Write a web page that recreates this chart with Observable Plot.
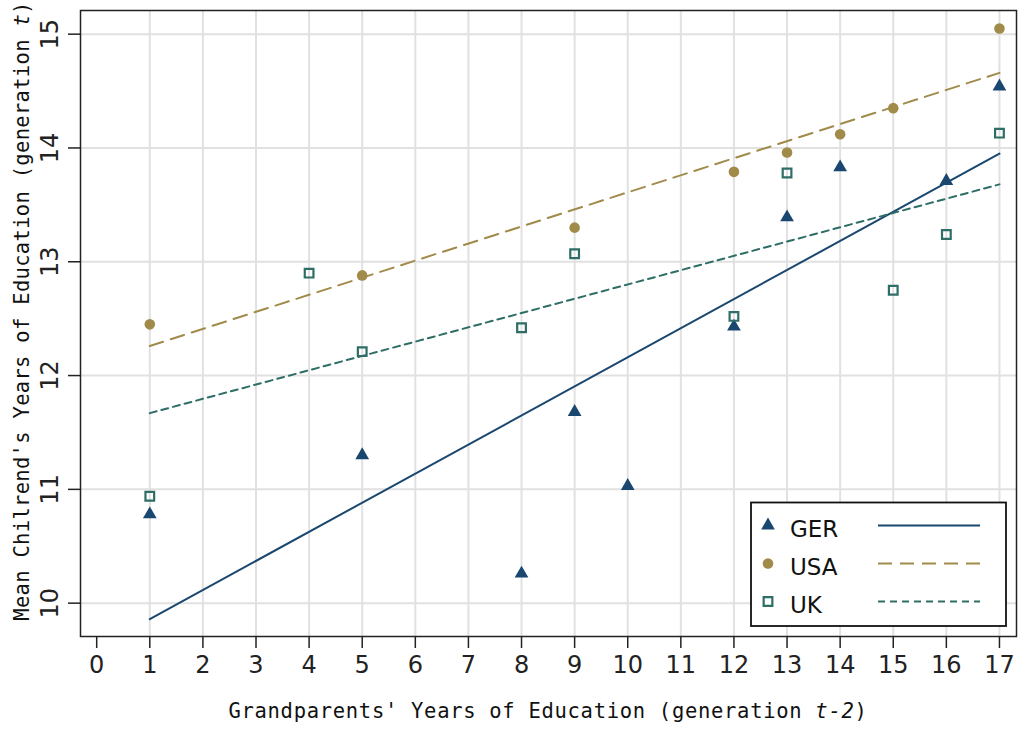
<!DOCTYPE html>
<html><head><meta charset="utf-8">
<script src="https://cdn.jsdelivr.net/npm/d3@7"></script>
<script src="https://cdn.jsdelivr.net/npm/@observablehq/plot@0.6"></script>
<style>
body{margin:0;background:#fff}
#chart{position:relative;width:1020px;height:729px}
</style>
</head><body><div id="chart"></div>
<script>
// ---- data ----
const gerX = [1, 5, 8, 9, 10, 12, 13, 14, 16, 17];
const gerY = [10.78, 11.30, 10.26, 11.68, 11.03, 12.43, 13.39, 13.83, 13.71, 14.54];
const usaX = [1, 5, 9, 12, 13, 14, 15, 17];
const usaY = [12.45, 12.88, 13.30, 13.79, 13.96, 14.12, 14.35, 15.05];
const ukX = [1, 4, 5, 8, 9, 12, 13, 15, 16, 17];
const ukY = [10.94, 12.90, 12.21, 12.42, 13.07, 12.52, 13.78, 12.75, 13.24, 14.13];
const fitX = [1, 17];
const gerFit = [9.86, 13.95];
const usaFit = [12.26, 14.66];
const ukFit = [11.67, 13.68];
const xTicks = [0, 1, 2, 3, 4, 5, 6, 7, 8, 9, 10, 11, 12, 13, 14, 15, 16, 17];
const xGrid = [1, 2, 3, 4, 5, 6, 7, 8, 9, 10, 11, 12, 13, 14, 15, 16, 17];
const yTicks = [10, 11, 12, 13, 14, 15];
const series = ["GER", "USA", "UK"];
const colors = {GER: "#1a476f", USA: "#a18b4a", UK: "#2e6e67"};

const pts = (xs, ys) => xs.map((x, i) => ({x, y: ys[i]}));
const ger = pts(gerX, gerY), usa = pts(usaX, usaY), uk = pts(ukX, ukY);
const gerL = pts(fitX, gerFit), usaL = pts(fitX, usaFit), ukL = pts(fitX, ukFit);

const chart = Plot.plot({
  width: 1020, height: 729,
  marginTop: 10, marginBottom: 93, marginLeft: 80, marginRight: 4,
  style: {background: "#fff", fontFamily: "'DejaVu Sans', sans-serif"},
  x: {domain: [-0.305, 17.321]},
  y: {domain: [9.707, 15.208]},
  marks: [
    Plot.gridX(xGrid, {stroke: "#e1e1e1", strokeOpacity: 1, strokeWidth: 2}),
    Plot.gridY(yTicks, {stroke: "#e1e1e1", strokeOpacity: 1, strokeWidth: 2}),
    Plot.axisX(xTicks, {tickSize: 12, tickPadding: 7, fontSize: 24, color: "#222", strokeWidth: 1.5, tickFormat: d => String(d), label: null}),
    Plot.axisY(yTicks, {tickSize: 12, tickPadding: 11, fontSize: 24, tickRotate: -90, color: "#222", strokeWidth: 1.5, tickFormat: d => String(d), label: null}),
    Plot.line(gerL, {x: "x", y: "y", stroke: colors.GER, strokeWidth: 2}),
    Plot.line(usaL, {x: "x", y: "y", stroke: colors.USA, strokeWidth: 2, strokeDasharray: "14,8"}),
    Plot.line(ukL, {x: "x", y: "y", stroke: colors.UK, strokeWidth: 2, strokeDasharray: "7,5"}),
    Plot.dot(ger, {x: "x", y: "y", symbol: "triangle", fill: colors.GER, r: 5.1}),
    Plot.dot(usa, {x: "x", y: "y", symbol: "circle", fill: colors.USA, r: 5.3}),
    Plot.dot(uk, {x: "x", y: "y", symbol: "square", fill: "none", stroke: colors.UK, strokeWidth: 2.2, r: 4.9}),
    Plot.frame({stroke: "#222", strokeWidth: 1.5})
  ]
});
document.getElementById("chart").appendChild(chart);

const svg = d3.select(chart);
const mono = "'DejaVu Sans Mono', monospace";
// x-axis title
const xt = svg.append("text").attr("x", 548).attr("y", 718).attr("text-anchor", "middle")
  .attr("font-family", mono).attr("font-size", 20.5).attr("letter-spacing", 0.7).attr("fill", "#111");
xt.append("tspan").text("Grandparents' Years of Education (generation ");
xt.append("tspan").attr("font-style", "italic").text("t-2");
xt.append("tspan").text(")");
// y-axis title
const yt = svg.append("text").attr("transform", "translate(29,311) rotate(-90)").attr("text-anchor", "middle")
  .attr("font-family", mono).attr("font-size", 20.5).attr("letter-spacing", 0.3).attr("fill", "#111");
yt.append("tspan").text("Mean Chilrend's Years of Education (generation ");
yt.append("tspan").attr("font-style", "italic").text("t");
yt.append("tspan").text(")");

// legend
const lg = svg.append("g");
lg.append("rect").attr("x", 751).attr("y", 502.5).attr("width", 255).attr("height", 123.5)
  .attr("fill", "#fff").attr("stroke", "#111").attr("stroke-width", 1.8);
const rowsY = [525.5, 563.5, 601.5];
const dashes = {GER: null, USA: "14,8", UK: "7,5"};
const syms = {GER: d3.symbolTriangle, USA: d3.symbolCircle, UK: d3.symbolSquare};
const symSize = {GER: 5.1 * 5.1 * Math.PI, USA: 5.3 * 5.3 * Math.PI, UK: 4.9 * 4.9 * Math.PI};
series.forEach((s, i) => {
  const y = rowsY[i];
  const p = lg.append("path").attr("transform", `translate(768,${y})`).attr("d", d3.symbol(syms[s], symSize[s])());
  if (s === "UK") p.attr("fill", "none").attr("stroke", colors[s]).attr("stroke-width", 2.2);
  else p.attr("fill", colors[s]);
  lg.append("text").attr("x", 790).attr("y", y + 11).attr("text-anchor", "start")
    .attr("font-family", "'DejaVu Sans', sans-serif")
    .attr("font-size", 23).attr("fill", "#111").text(s);
  const ln = lg.append("line").attr("x1", 878).attr("x2", 980).attr("y1", y).attr("y2", y)
    .attr("stroke", colors[s]).attr("stroke-width", 2);
  if (dashes[s]) ln.attr("stroke-dasharray", dashes[s]);
});
</script>
</body></html>
